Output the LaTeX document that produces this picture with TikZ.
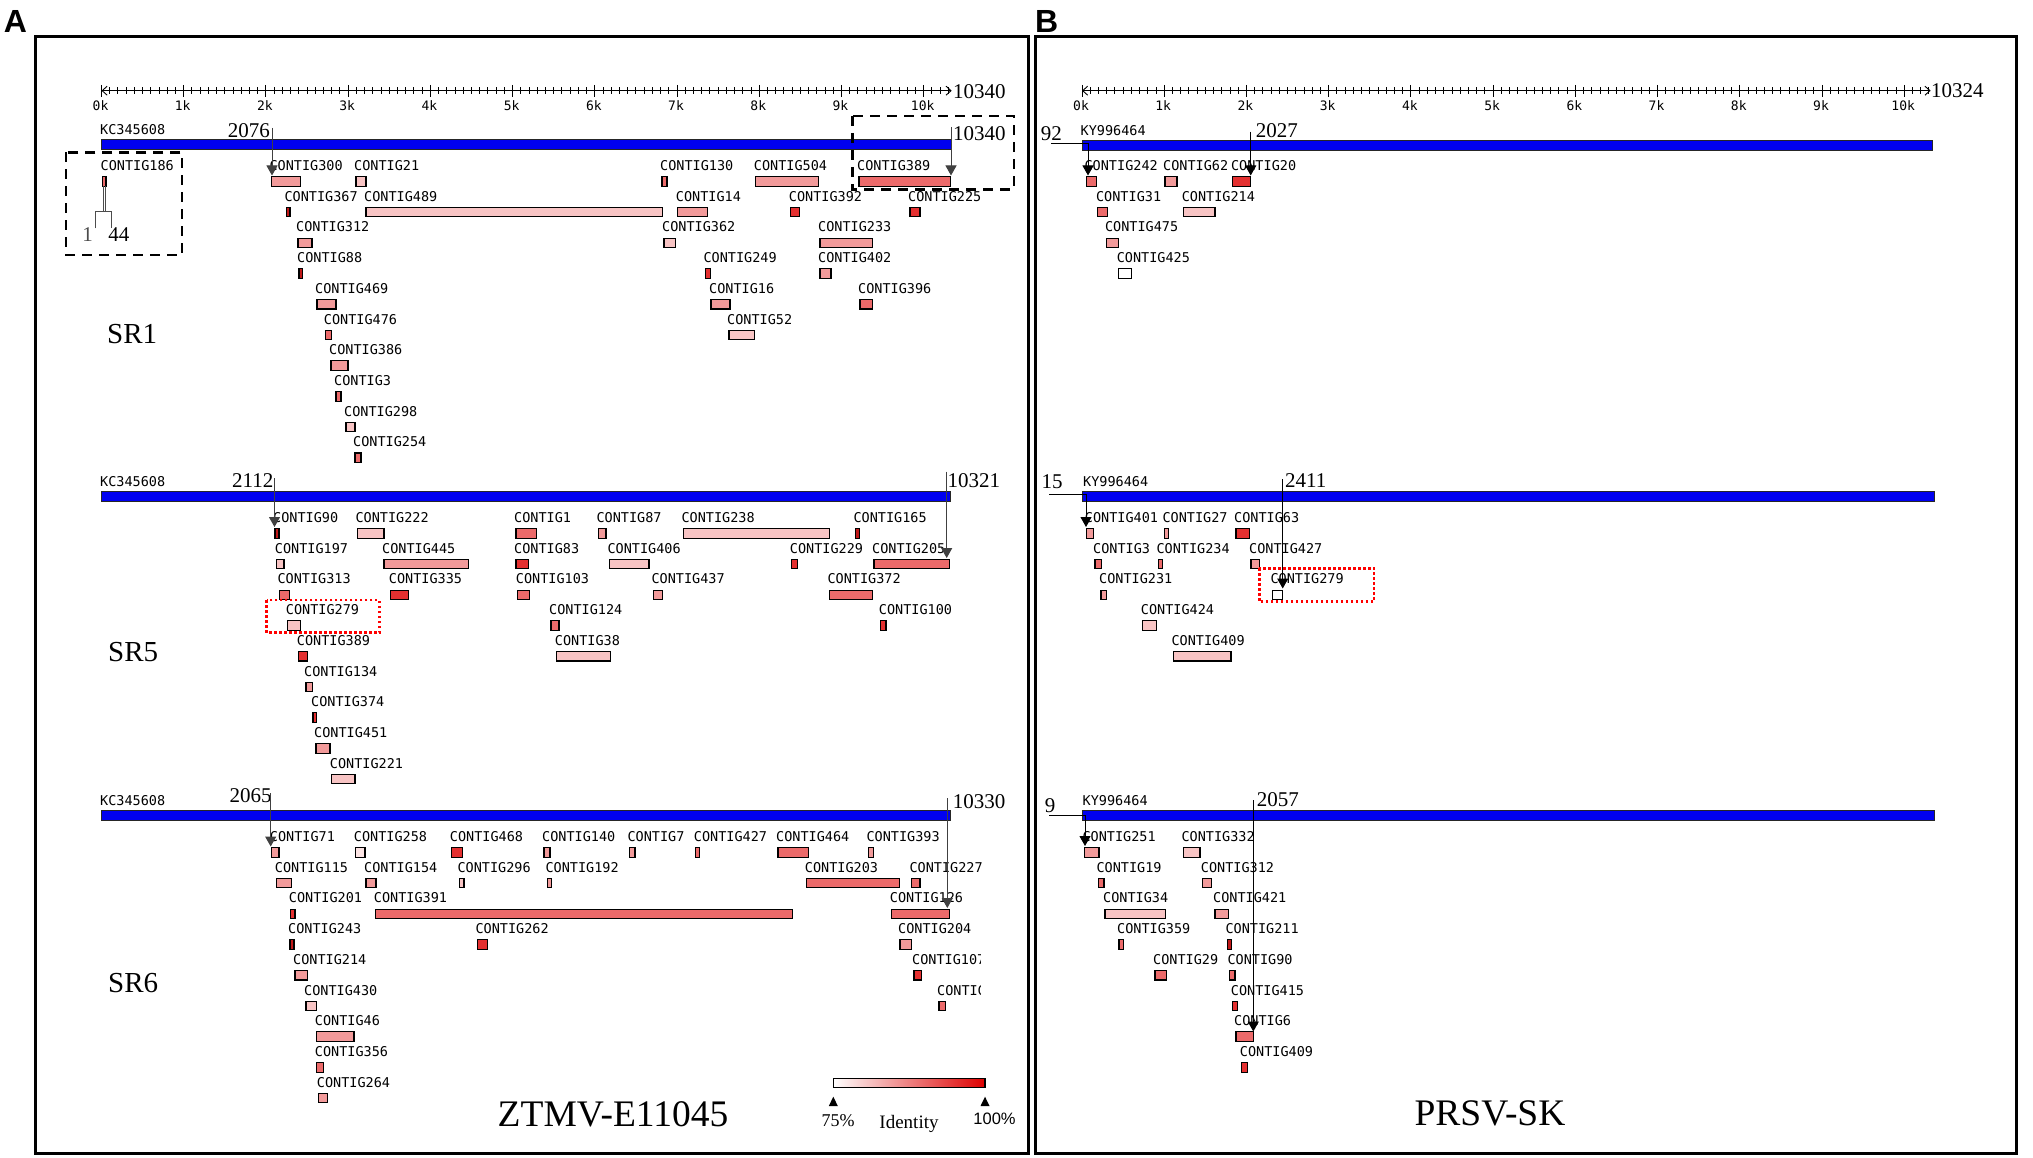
\documentclass[tikz,border=0pt]{standalone}
\usepackage{fontspec}
\setmainfont{Liberation Serif}
\newfontfamily\monof{DejaVu Sans Mono}
\newfontfamily\sansf{Liberation Sans}
\usetikzlibrary{arrows.meta}
\definecolor{c1}{HTML}{FCE4E4}
\definecolor{c2}{HTML}{F8C4C4}
\definecolor{c3}{HTML}{F29A9A}
\definecolor{c4}{HTML}{EC6A6A}
\definecolor{c5}{HTML}{E43030}
\definecolor{c6}{HTML}{C01818}
\definecolor{gblue}{HTML}{0000F0}
\definecolor{legred}{HTML}{DD0000}
\newcommand{\ctg}[7]{%
  \node[clab] (#1) at ({#3-2},{#5+(#6-1)*30.7}) {#2};
  \draw[cbox,fill=#7] ({#3},{#5+(#6-1)*30.7+11}) rectangle ({#4},{#5+(#6-1)*30.7+20.5});
}
\newcommand{\gaxis}[3]{%
  \draw[tk,{Straight Barb[length=5pt,width=9pt]}-{Straight Barb[length=5pt,width=9pt]}] (#1,90.7) -- (#2,90.7);
  \foreach \i in {1,...,103} \draw[tk] ({#1+\i*8.222},87.3) -- ({#1+\i*8.222},94);
  \foreach \n in {0,...,10} {
    \draw[tk] ({#1+\n*82.22},85) -- ({#1+\n*82.22},96.7);
    \node[axl] (ax#3\n) at ({#1+\n*82.22-1},106) {\n k};
  }
}
\begin{document}
\begin{tikzpicture}[x=1pt,y=-1pt,
  clab/.style={font=\monof\fontsize{13.5}{14}\selectfont, anchor=west, inner sep=0pt, text height=9.6pt, text depth=0pt},
  cbox/.style={draw=black, line width=1.1pt},
  gbar/.style={draw=black!85, fill=gblue, line width=1pt},
  conn/.style={draw=black!75, line width=1pt, -{Triangle[length=10pt,width=11pt]}},
  num/.style={font=\fontsize{21}{24}\selectfont, inner sep=0pt, text height=14.2pt, text depth=0pt},
  axl/.style={font=\monof\fontsize{13}{14}\selectfont, inner sep=0pt},
  acc/.style={font=\monof\fontsize{13.5}{14}\selectfont, anchor=west, inner sep=0pt, text height=9.6pt, text depth=0pt},
  tk/.style={line width=0.9pt},
  frame/.style={line width=3pt},
  kbox/.style={draw=black, line width=2.5pt, dash pattern=on 10pt off 7pt},
  rbox/.style={draw=red, line width=2.5pt, dash pattern=on 2.5pt off 2.5pt},
  srl/.style={font=\fontsize{29}{32}\selectfont, anchor=base west, inner sep=0pt},
  ttl/.style={font=\fontsize{37.5}{40}\selectfont, anchor=base, inner sep=0pt},
  plet/.style={font=\sansf\bfseries\fontsize{32}{34}\selectfont, anchor=base west, inner sep=0pt},
]
\useasboundingbox (0,0) rectangle (2033,1158);
\fill[white] (0,0) rectangle (2033,1158);
% frames and letters
\draw[frame] (35.7,36.7) rectangle (1028,1153);
\draw[frame] (1035,36.7) rectangle (2016,1153);
\node[plet] (labA) at (3.6,33) {A};
\node[plet] (labB) at (1035,33) {B};
% axes
\gaxis{101.5}{951.7}{A}
\node[num,anchor=west] (axAend) at (953,91.7) {10340};
\gaxis{1082}{1930.6}{B}
\node[num,anchor=west] (axBend) at (1931,90.7) {10324};
% genome bars
\draw[gbar] (101.5,140) rectangle (951.7,150);
\draw[gbar] (101.5,491.7) rectangle (950.1,501.7);
\draw[gbar] (101.5,810.7) rectangle (950.8,820.7);
\draw[gbar] (1082,141) rectangle (1932,151);
\draw[gbar] (1082,491.7) rectangle (1934,501.7);
\draw[gbar] (1082,810.3) rectangle (1934,820.5);
\node[acc] (accA1) at (100,130) {KC345608};
\node[acc] (accA5) at (100,481.7) {KC345608};
\node[acc] (accA6) at (100,800.7) {KC345608};
\node[acc] (accB1) at (1080.5,130.7) {KY996464};
\node[acc] (accB5) at (1083,481.7) {KY996464};
\node[acc] (accB6) at (1082.5,800.7) {KY996464};
% SR labels and titles
\node[srl] (sr1) at (107,343.3) {SR1};
\node[srl] (sr5) at (108,661.7) {SR5};
\node[srl] (sr6) at (108,992.7) {SR6};
\node[ttl] (tA) at (613,1126) {ZTMV-E11045};
\node[ttl] (tB) at (1490,1125) {PRSV-SK};
% ---------- A SR1
\ctg{a1c186}{CONTIG186}{102.5}{106}{165.7}{1}{c4}
\ctg{a1c300}{CONTIG300}{271.4}{300.7}{165.7}{1}{c3}
\ctg{a1c21}{CONTIG21}{356}{366}{165.7}{1}{c2}
\ctg{a1c130}{CONTIG130}{662}{667}{165.7}{1}{c4}
\ctg{a1c504}{CONTIG504}{755.7}{818.7}{165.7}{1}{c3}
\ctg{a1c389}{CONTIG389}{859}{950.7}{165.7}{1}{c4}
\ctg{a1c367}{CONTIG367}{286.4}{290}{165.7}{2}{c6}
\ctg{a1c489}{CONTIG489}{366}{662.7}{165.7}{2}{c2}
\ctg{a1c14}{CONTIG14}{677.7}{707.7}{165.7}{2}{c3}
\ctg{a1c392}{CONTIG392}{790.7}{799.3}{165.7}{2}{c5}
\ctg{a1c225}{CONTIG225}{910}{920}{165.7}{2}{c5}
\ctg{a1c312}{CONTIG312}{298}{312}{165.7}{3}{c3}
\ctg{a1c362}{CONTIG362}{664}{675.7}{165.7}{3}{c2}
\ctg{a1c233}{CONTIG233}{820}{872.7}{165.7}{3}{c3}
\ctg{a1c88}{CONTIG88}{299}{302.5}{165.7}{4}{c6}
\ctg{a1c249}{CONTIG249}{705.3}{710.3}{165.7}{4}{c5}
\ctg{a1c402}{CONTIG402}{820}{831}{165.7}{4}{c3}
\ctg{a1c469}{CONTIG469}{317}{336}{165.7}{5}{c3}
\ctg{a1c16}{CONTIG16}{711}{730}{165.7}{5}{c3}
\ctg{a1c396}{CONTIG396}{860}{872.7}{165.7}{5}{c4}
\ctg{a1c476}{CONTIG476}{325.7}{331.4}{165.7}{6}{c4}
\ctg{a1c52}{CONTIG52}{729}{754.3}{165.7}{6}{c2}
\ctg{a1c386}{CONTIG386}{331}{348}{165.7}{7}{c3}
\ctg{a1c3}{CONTIG3}{336}{341}{165.7}{8}{c4}
\ctg{a1c298}{CONTIG298}{346}{355}{165.7}{9}{c2}
\ctg{a1c254}{CONTIG254}{355}{361}{165.7}{10}{c4}
% bracket under CONTIG186
\draw[line width=0.8pt,black!70] (103.2,186) -- (103.2,211.7);
\draw[line width=0.8pt,black!70] (105.4,186) -- (105.4,211.7);
\draw[line width=0.8pt,black!70] (95.7,228.3) -- (95.7,211.7) -- (111.4,211.7) -- (111.4,228.3);
\node[num,text=black!70] (pos1) at (87.5,234) {1};
\node[num] (pos44) at (118.8,234) {44};
% ---------- A SR5
\ctg{a5c90}{CONTIG90}{275}{279}{517.7}{1}{c6}
\ctg{a5c222}{CONTIG222}{357.3}{384}{517.7}{1}{c2}
\ctg{a5c1}{CONTIG1}{516}{536.7}{517.7}{1}{c4}
\ctg{a5c87}{CONTIG87}{598.3}{606}{517.7}{1}{c3}
\ctg{a5c238}{CONTIG238}{683.3}{829.3}{517.7}{1}{c2}
\ctg{a5c165}{CONTIG165}{855.3}{859.3}{517.7}{1}{c6}
\ctg{a5c197}{CONTIG197}{276.7}{284}{517.7}{2}{c2}
\ctg{a5c445}{CONTIG445}{384}{468.3}{517.7}{2}{c3}
\ctg{a5c83}{CONTIG83}{516}{528.3}{517.7}{2}{c5}
\ctg{a5c406}{CONTIG406}{609.3}{649}{517.7}{2}{c2}
\ctg{a5c229}{CONTIG229}{791.7}{797.7}{517.7}{2}{c5}
\ctg{a5c205}{CONTIG205}{874}{949.3}{517.7}{2}{c4}
\ctg{a5c313}{CONTIG313}{279.3}{289.3}{517.7}{3}{c4}
\ctg{a5c335}{CONTIG335}{390.7}{408.3}{517.7}{3}{c5}
\ctg{a5c103}{CONTIG103}{517.7}{529.3}{517.7}{3}{c4}
\ctg{a5c437}{CONTIG437}{653.3}{662.7}{517.7}{3}{c3}
\ctg{a5c372}{CONTIG372}{829.3}{872.7}{517.7}{3}{c4}
\ctg{a5c279}{CONTIG279}{287.7}{300.7}{517.7}{4}{c2}
\ctg{a5c124}{CONTIG124}{551}{559}{517.7}{4}{c4}
\ctg{a5c100}{CONTIG100}{880.7}{886}{517.7}{4}{c5}
\ctg{a5c389}{CONTIG389}{298.7}{307.7}{517.7}{5}{c5}
\ctg{a5c38}{CONTIG38}{556.7}{610.7}{517.7}{5}{c2}
\ctg{a5c134}{CONTIG134}{306}{312.3}{517.7}{6}{c3}
\ctg{a5c374}{CONTIG374}{313}{316.3}{517.7}{7}{c5}
\ctg{a5c451}{CONTIG451}{316}{330}{517.7}{8}{c3}
\ctg{a5c221}{CONTIG221}{331.7}{355}{517.7}{9}{c2}
% ---------- A SR6
\ctg{a6c71}{CONTIG71}{271.7}{279}{836.7}{1}{c3}
\ctg{a6c258}{CONTIG258}{355.7}{365}{836.7}{1}{c1}
\ctg{a6c468}{CONTIG468}{451.7}{462.7}{836.7}{1}{c5}
\ctg{a6c140}{CONTIG140}{544}{550}{836.7}{1}{c3}
\ctg{a6c7}{CONTIG7}{629.3}{635}{836.7}{1}{c3}
\ctg{a6c427}{CONTIG427}{695.7}{699.3}{836.7}{1}{c4}
\ctg{a6c464}{CONTIG464}{778}{808.7}{836.7}{1}{c4}
\ctg{a6c393}{CONTIG393}{868.3}{873.3}{836.7}{1}{c3}
\ctg{a6c115}{CONTIG115}{276.7}{291.7}{836.7}{2}{c3}
\ctg{a6c154}{CONTIG154}{366}{376}{836.7}{2}{c3}
\ctg{a6c296}{CONTIG296}{459.3}{464}{836.7}{2}{c2}
\ctg{a6c192}{CONTIG192}{547.3}{551.7}{836.7}{2}{c3}
\ctg{a6c203}{CONTIG203}{806.7}{899.3}{836.7}{2}{c4}
\ctg{a6c227}{CONTIG227}{911.3}{920}{836.7}{2}{c4}
\ctg{a6c201}{CONTIG201}{290.7}{295}{836.7}{3}{c5}
\ctg{a6c391}{CONTIG391}{375.7}{792.3}{836.7}{3}{c4}
\ctg{a6c126}{CONTIG126}{891.7}{949.3}{836.7}{3}{c4}
\ctg{a6c243}{CONTIG243}{290}{294}{836.7}{4}{c6}
\ctg{a6c262}{CONTIG262}{477.3}{487.3}{836.7}{4}{c5}
\ctg{a6c204}{CONTIG204}{900}{911.7}{836.7}{4}{c3}
\ctg{a6c214}{CONTIG214}{295}{307.7}{836.7}{5}{c3}
\ctg{a6c430}{CONTIG430}{306}{316.7}{836.7}{6}{c2}
\ctg{a6c46}{CONTIG46}{316.7}{354}{836.7}{7}{c3}
\ctg{a6c356}{CONTIG356}{316.7}{323.3}{836.7}{8}{c4}
\ctg{a6c264}{CONTIG264}{318.7}{327.3}{836.7}{9}{c3}
\begin{scope}
\clip (890,0) rectangle (980.5,1158);
\ctg{a6c107}{CONTIG107}{914}{921.7}{836.7}{5}{c5}
\ctg{a6cx}{CONTIG}{939}{945.7}{836.7}{6}{c4}
\end{scope}
% ---------- B SR1
\ctg{b1c242}{CONTIG242}{1086.4}{1096.8}{165.7}{1}{c4}
\ctg{b1c62}{CONTIG62}{1165}{1177}{165.7}{1}{c3}
\ctg{b1c20}{CONTIG20}{1232.9}{1250.7}{165.7}{1}{c5}
\ctg{b1c31}{CONTIG31}{1097.9}{1107.9}{165.7}{2}{c4}
\ctg{b1c214}{CONTIG214}{1183.6}{1215}{165.7}{2}{c2}
\ctg{b1c475}{CONTIG475}{1106.8}{1118.6}{165.7}{3}{c3}
\ctg{b1c425}{CONTIG425}{1118.6}{1131.8}{165.7}{4}{white}
% ---------- B SR5
\ctg{b5c401}{CONTIG401}{1086.7}{1093.3}{517.7}{1}{c3}
\ctg{b5c27}{CONTIG27}{1164.3}{1168.3}{517.7}{1}{c3}
\ctg{b5c63}{CONTIG63}{1236}{1249.3}{517.7}{1}{c5}
\ctg{b5c3}{CONTIG3}{1095}{1101.7}{517.7}{2}{c4}
\ctg{b5c234}{CONTIG234}{1158.3}{1162.7}{517.7}{2}{c4}
\ctg{b5c427}{CONTIG427}{1251}{1259.3}{517.7}{2}{c3}
\ctg{b5c231}{CONTIG231}{1101}{1106.7}{517.7}{3}{c3}
\ctg{b5c279}{CONTIG279}{1272.3}{1282.7}{517.7}{3}{white}
\ctg{b5c424}{CONTIG424}{1142.7}{1156.7}{517.7}{4}{c2}
\ctg{b5c409}{CONTIG409}{1173.3}{1231}{517.7}{5}{c2}
% ---------- B SR6
\ctg{b6c251}{CONTIG251}{1084.3}{1099}{836.7}{1}{c3}
\ctg{b6c332}{CONTIG332}{1183.3}{1200}{836.7}{1}{c2}
\ctg{b6c19}{CONTIG19}{1098.3}{1104}{836.7}{2}{c4}
\ctg{b6c312}{CONTIG312}{1202.7}{1211.7}{836.7}{2}{c3}
\ctg{b6c34}{CONTIG34}{1105}{1165.7}{836.7}{3}{c2}
\ctg{b6c421}{CONTIG421}{1215}{1228.3}{836.7}{3}{c3}
\ctg{b6c359}{CONTIG359}{1119}{1123.3}{836.7}{4}{c4}
\ctg{b6c211}{CONTIG211}{1227.3}{1231.7}{836.7}{4}{c6}
\ctg{b6c29}{CONTIG29}{1155}{1166.7}{836.7}{5}{c4}
\ctg{b6c90}{CONTIG90}{1229.3}{1235}{836.7}{5}{c4}
\ctg{b6c415}{CONTIG415}{1232.7}{1237.7}{836.7}{6}{c5}
\ctg{b6c6}{CONTIG6}{1236}{1253.3}{836.7}{7}{c4}
\ctg{b6c409}{CONTIG409}{1241.7}{1247.7}{836.7}{8}{c5}
% ---------- position labels and connectors
\node[num,anchor=east] (n2076) at (270,130) {2076};
\node[num,anchor=west] (n10340) at (953,133) {10340};
\node[num,anchor=east] (n2112) at (273.5,480) {2112};
\node[num,anchor=west] (n10321) at (947.5,480) {10321};
\node[num,anchor=east] (n2065) at (271.7,795) {2065};
\node[num,anchor=west] (n10330) at (952.7,801.7) {10330};
\node[num] (n92) at (1051.4,133) {92};
\node[num,anchor=west] (n2027) at (1255.7,130) {2027};
\node[num] (n15) at (1052,481.7) {15};
\node[num,anchor=west] (n2411) at (1285,480) {2411};
\node[num] (n9) at (1050,805) {9};
\node[num,anchor=west] (n2057) at (1256.7,799.3) {2057};
\coordinate (s2076) at (272,128);     \coordinate (e2076) at (272,175.5);
\coordinate (s10340) at (951,127);    \coordinate (e10340) at (951,175.5);
\coordinate (s2112) at (274.5,478);   \coordinate (e2112) at (274.5,527);
\coordinate (s10321) at (946.7,471.7);\coordinate (e10321) at (946.7,558);
\coordinate (s2065) at (270.7,793);   \coordinate (e2065) at (270.7,846.5);
\coordinate (s10330) at (947.3,798);  \coordinate (e10330) at (947.3,908);
\coordinate (s92) at (1051,143.3);    \coordinate (k92) at (1088,143.3);  \coordinate (e92) at (1088,175.5);
\coordinate (s2027) at (1250.7,131.7);\coordinate (e2027) at (1250.7,175.5);
\coordinate (s15) at (1049,494.3);    \coordinate (k15) at (1086,494.3);  \coordinate (e15) at (1086,527);
\coordinate (s2411) at (1282.7,479);  \coordinate (e2411) at (1282.7,588.5);
\coordinate (s9) at (1049.3,815);     \coordinate (k9) at (1085,815);     \coordinate (e9) at (1085,846);
\coordinate (s2057) at (1253.3,800);  \coordinate (e2057) at (1253.3,1031.5);
\draw[conn] (s2076) -- (e2076);
\draw[conn] (s10340) -- (e10340);
\draw[conn] (s2112) -- (e2112);
\draw[conn] (s10321) -- (e10321);
\draw[conn] (s2065) -- (e2065);
\draw[conn] (s10330) -- (e10330);
\draw[conn,draw=black] (s92) -- (k92) -- (e92);
\draw[conn,draw=black] (s2027) -- (e2027);
\draw[conn,draw=black] (s15) -- (k15) -- (e15);
\draw[conn,draw=black] (s2411) -- (e2411);
\draw[conn,draw=black] (s9) -- (k9) -- (e9);
\draw[conn,draw=black] (s2057) -- (e2057);
% ---------- highlight boxes
\draw[kbox] (66,152.3) rectangle (182,255);
\draw[kbox] (852.7,116) rectangle (1014,189.3);
\draw[rbox] (266.7,600) rectangle (379.3,632.7);
\draw[rbox] (1259.3,568.3) rectangle (1374,601.7);
% ---------- legend
\shade[left color=white,right color=legred] (833.3,1078.3) rectangle (985,1087.3);
\draw[line width=1.2pt] (833.3,1078.3) rectangle (985,1087.3);
\fill (833.3,1096.7) -- (828.8,1106) -- (837.8,1106) -- cycle;
\fill (985,1096.7) -- (980.5,1106) -- (989.5,1106) -- cycle;
\node[font=\fontsize{18}{20}\selectfont,anchor=base,inner sep=0pt] (l75) at (838,1126.7) {75\%};
\node[font=\fontsize{19}{21}\selectfont,anchor=base,inner sep=0pt] (lid) at (909,1128) {Identity};
\node[font=\sansf\fontsize{16.5}{18}\selectfont,anchor=base,inner sep=0pt] (l100) at (994.5,1124) {100\%};
\end{tikzpicture}
\end{document}
